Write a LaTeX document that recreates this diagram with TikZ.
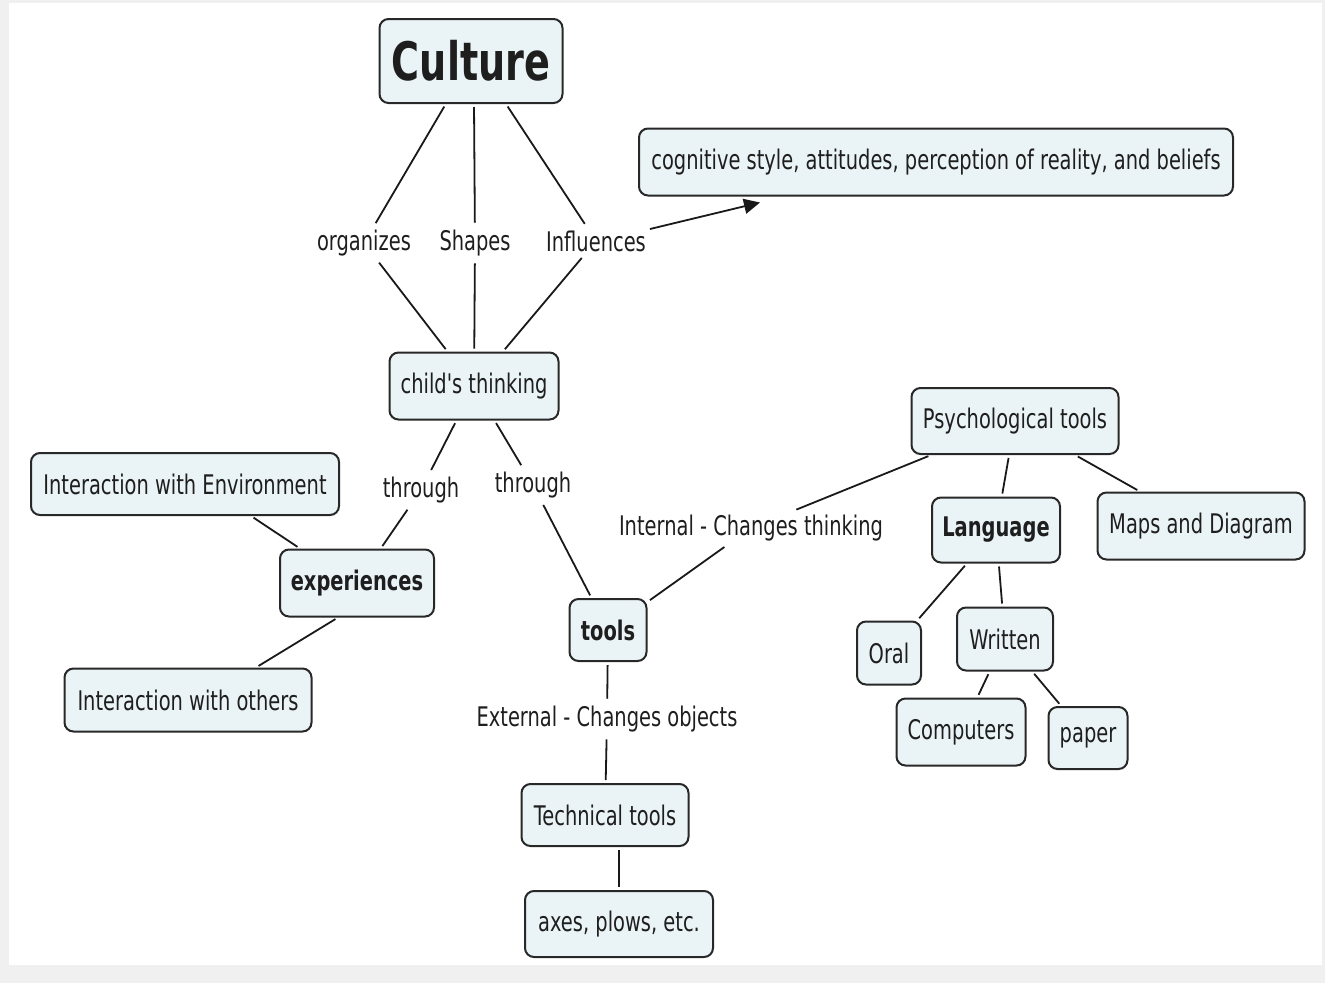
\documentclass[tikz,border=0pt]{standalone}
\usepackage{fontspec}
\setmainfont{DejaVu Sans}[FakeStretch=0.72, Ligatures=TeXOff]
\usetikzlibrary{arrows.meta}
\definecolor{boxfill}{RGB}{234,243,245}
\definecolor{boxborder}{RGB}{40,40,40}
\definecolor{txt}{RGB}{30,30,30}
\definecolor{linecol}{RGB}{25,25,25}
\definecolor{pagebg}{RGB}{240,240,240}
\newcommand{\nodefont}{\fontsize{27}{32}\selectfont}
\tikzset{
  box/.style={draw=boxborder, line width=2pt, rounded corners=9pt, fill=boxfill,
    text=txt, font=\nodefont, inner sep=0pt},
  lbl/.style={text=txt, font=\nodefont, inner sep=4pt},
  link/.style={draw=linecol, line width=1.8pt, shorten >=3pt, shorten <=3pt},
}
\begin{document}
\begin{tikzpicture}[x=1pt,y=-1pt]
\useasboundingbox (0,0) rectangle (1325,983);
\fill[pagebg] (0,0) rectangle (1325,983);
\fill[white] (9,3) rectangle (1322,965);

% nodes
\node[box, minimum width=183, minimum height=84, font=\fontsize{53}{60}\selectfont\bfseries] (culture) at (471,61) {Culture};
\node[box, minimum width=594, minimum height=67] (cog) at (936,162) {cognitive style, attitudes, perception of reality, and beliefs};
\node[box, minimum width=169, minimum height=67] (child) at (474,386) {child's thinking};
\node[box, minimum width=207, minimum height=66] (psych) at (1015,421) {Psychological tools};
\node[box, minimum width=308, minimum height=62] (ienv) at (185,484) {Interaction with Environment};
\node[box, minimum width=128, minimum height=65, font=\nodefont\bfseries] (lang) at (996,530) {Language};
\node[box, minimum width=207, minimum height=67] (maps) at (1201,526) {Maps and Diagram};
\node[box, minimum width=154, minimum height=67, font=\nodefont\bfseries] (exp) at (357,583) {experiences};
\node[box, minimum width=77, minimum height=62, font=\nodefont\bfseries] (tools) at (608,630) {tools};
\node[box, minimum width=64, minimum height=63] (oral) at (889,653) {Oral};
\node[box, minimum width=96, minimum height=63] (written) at (1005,639) {Written};
\node[box, minimum width=247, minimum height=63] (oth) at (188,700) {Interaction with others};
\node[box, minimum width=129, minimum height=67] (comp) at (961,732) {Computers};
\node[box, minimum width=79, minimum height=62] (paper) at (1088,738) {paper};
\node[box, minimum width=167, minimum height=62] (tech) at (605,815) {Technical tools};
\node[box, minimum width=188, minimum height=66] (axes) at (619,924) {axes, plows, etc.};

% labels
\node[lbl] (org) at (364,243) {organizes};
\node[lbl] (shapes) at (475,243) {Shapes};
\node[lbl] (infl) at (596,241) {Influences};
\node[lbl] (thr1) at (421,490) {through};
\node[lbl] (thr2) at (533,485) {through};
\node[lbl] (intern) at (751,528) {Internal - Changes thinking};
\node[lbl] (extern) at (607,719) {External - Changes objects};

% connectors
\draw[link] (culture) -- (org);
\draw[link] (org) -- (child);
\draw[link] ([xshift=3]culture.south) -- (shapes);
\draw[link] (shapes) -- (child);
\draw[link] ([xshift=35]culture.south) -- (infl);
\draw[link] (infl) -- (child);
\draw[draw=linecol, line width=1.8pt, -{Triangle[length=16pt,width=15pt]}] ([yshift=12]infl.east) -- ([xshift=-176,yshift=-6]cog.south);
\draw[link] (child) -- (thr1);
\draw[link] (thr1) -- (exp);
\draw[link] (child) -- (thr2);
\draw[link] (thr2) -- (tools);
\draw[link] (tools) -- (intern);
\draw[link] (intern) -- (psych);
\draw[link] (tools) -- (extern);
\draw[link] (extern) -- (tech);
\draw[link] ([xshift=14]tech.south) -- (axes.north);
\draw[link] ([xshift=66]ienv.south) -- ([xshift=-57]exp.north);
\draw[link] ([xshift=-19]exp.south) -- ([xshift=68]oth.north);
\draw[link] (psych) -- (lang);
\draw[link] (psych) -- (maps);
\draw[link] (lang) -- (oral);
\draw[link] (lang) -- (written);
\draw[link] (written) -- (comp);
\draw[link] (written) -- (paper);
\end{tikzpicture}
\end{document}
